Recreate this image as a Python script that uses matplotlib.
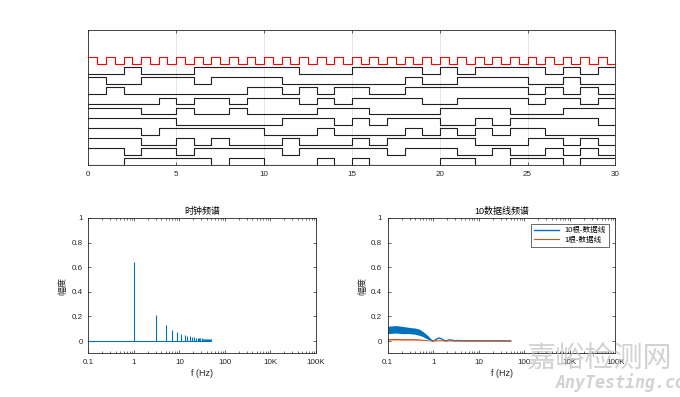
import numpy as np
import matplotlib
matplotlib.use("Agg")
import matplotlib.pyplot as plt

plt.rcParams['font.family'] = ['Liberation Sans', 'Noto Sans CJK SC', 'DejaVu Sans']
plt.rcParams['axes.unicode_minus'] = False

# ---- dados: sinal de clock e 10 linhas de dados (bits por segundo) ----
clock_bits = [1, 0, 1, 0, 1, 0, 1, 0, 1, 0, 1, 0, 1, 0, 1, 0, 1, 0, 1, 0,
              1, 0, 1, 0, 1, 0, 1, 0, 1, 0, 1, 0, 1, 0, 1, 0, 1, 0, 1, 0,
              1, 0, 1, 0, 1, 0, 1, 0, 1, 0, 1, 0, 1, 0, 1, 0, 1, 0, 1, 0]

bits_1 = [0, 0, 1, 0, 0, 0, 1, 1, 1, 1, 1, 1, 0, 0, 0, 1, 1, 1, 1, 0, 1, 0, 1, 1, 1, 1, 0, 1, 0, 1]
bits_2 = [1, 0, 0, 1, 1, 1, 0, 1, 1, 1, 1, 0, 0, 0, 0, 0, 0, 0, 1, 0, 0, 1, 1, 1, 1, 0, 0, 1, 0, 0]
bits_3 = [0, 1, 0, 0, 0, 0, 0, 0, 0, 1, 1, 0, 1, 0, 1, 1, 0, 0, 1, 1, 1, 1, 1, 1, 1, 0, 1, 0, 1, 0]
bits_4 = [0, 0, 0, 0, 1, 0, 1, 1, 0, 1, 1, 1, 0, 1, 0, 1, 1, 1, 1, 0, 0, 1, 1, 1, 1, 0, 1, 1, 0, 1]
bits_5 = [1, 1, 1, 0, 0, 1, 0, 0, 1, 0, 0, 0, 0, 1, 1, 1, 0, 0, 0, 0, 1, 1, 1, 1, 0, 0, 0, 1, 1, 1]
bits_6 = [1, 1, 1, 1, 1, 0, 0, 0, 0, 0, 0, 1, 1, 1, 0, 1, 0, 1, 1, 1, 0, 0, 1, 0, 1, 1, 1, 1, 1, 0]
bits_7 = [1, 1, 1, 0, 1, 1, 1, 1, 1, 1, 0, 0, 0, 1, 0, 0, 0, 0, 1, 0, 1, 0, 1, 0, 1, 1, 0, 0, 0, 0]
bits_8 = [1, 1, 1, 0, 0, 1, 0, 1, 0, 0, 0, 1, 0, 0, 0, 1, 0, 1, 1, 1, 1, 1, 0, 0, 0, 1, 1, 0, 1, 0]
bits_9 = [1, 1, 0, 1, 1, 0, 1, 1, 1, 1, 1, 0, 1, 1, 1, 1, 1, 0, 1, 1, 1, 0, 0, 1, 0, 0, 1, 0, 1, 0]
bits_10 = [0, 0, 1, 1, 1, 1, 1, 0, 1, 1, 0, 0, 0, 1, 0, 1, 0, 0, 0, 0, 1, 1, 0, 0, 1, 1, 1, 0, 1, 1]
data_lines = [bits_1, bits_2, bits_3, bits_4, bits_5, bits_6, bits_7, bits_8, bits_9, bits_10]

# espectro do clock (harmônicos ímpares)
harm_f = [1, 3, 5, 7, 9, 11, 13, 15, 17, 19, 21, 23, 25, 27, 29, 31, 33, 35, 37, 39, 41, 43, 45, 47, 49]
harm_a = [0.64, 0.21, 0.13, 0.09, 0.07, 0.058, 0.049, 0.042, 0.037, 0.034, 0.030, 0.028, 0.026,
          0.024, 0.022, 0.021, 0.019, 0.018, 0.017, 0.016, 0.016, 0.015, 0.014, 0.014, 0.013]

# espectro das linhas de dados (envoltória da faixa ruidosa)
band_f = [0.1, 0.15, 0.2, 0.3, 0.4, 0.5, 0.6, 0.7, 0.8, 0.9, 1.0]
band10_hi = [0.12, 0.125, 0.12, 0.11, 0.105, 0.095, 0.075, 0.055, 0.035, 0.015, 0.003]
band10_lo = [0.06, 0.065, 0.06, 0.06, 0.055, 0.045, 0.035, 0.02, 0.01, 0.003, 0.0]
band1_hi = [0.02, 0.021, 0.02, 0.02, 0.019, 0.017, 0.014, 0.011, 0.008, 0.004, 0.001]
band1_lo = [0.008, 0.009, 0.008, 0.008, 0.007, 0.006, 0.005, 0.003, 0.002, 0.0, 0.0]
tail_f = [0.95, 1.0, 1.1, 1.2, 1.35, 1.5, 1.7, 1.9, 2.1, 2.3, 2.6, 3.0, 3.5, 4.0, 5.0, 7.0, 10, 20, 50]
tail10 = [0.004, 0.0, 0.008, 0.018, 0.024, 0.018, 0.006, 0.001, 0.006, 0.01, 0.006, 0.002,
          0.004, 0.003, 0.001, 0.002, 0.001, 0.001, 0.0]
tail1 = [0.001, 0.0, 0.001, 0.002, 0.002, 0.002, 0.001, 0.0, 0.001, 0.001, 0.001, 0.0,
         0.001, 0.0, 0.0, 0.0, 0.0, 0.0, 0.0]

freq_ticks = [0.1, 1, 10, 100, 1000, 10000]
freq_labels = ['0.1', '1', '10', '100', '10K', '100K']

AZUL = '#0072BD'
LARANJA = '#D95319'
EIXO = '#262626'

fig = plt.figure(figsize=(6.8, 3.97), dpi=100)


def estilo_eixo(ax):
    for s in ax.spines.values():
        s.set_linewidth(0.6)
        s.set_color(EIXO)
    ax.tick_params(direction='in', length=2.5, width=0.5, labelsize=5.8, colors=EIXO,
                   top=True, right=True, pad=4)
    ax.tick_params(which='minor', direction='in', length=1.3, width=0.4, top=True, right=True)


# ---- gráfico superior: formas de onda ----
ax1 = fig.add_axes([0.13, 0.5838, 0.775, 0.3412])
t_half = np.arange(len(clock_bits) + 1) * 0.5
ax1.step(t_half, np.array(clock_bits + [clock_bits[-1]]) + 15, where='post', color='r', lw=0.8)
t_bit = np.arange(31)
for i, bits in enumerate(data_lines):
    offset = 1.5 * (len(data_lines) - 1 - i)
    ax1.step(t_bit, np.array(bits + [bits[-1]]) + offset, where='post', color='#202020', lw=0.8)
ax1.set_xlim(0, 30)
ax1.set_ylim(0, 20)
ax1.set_xticks([0, 5, 10, 15, 20, 25, 30])
ax1.set_yticks([])
ax1.grid(axis='x', color='#dcdcdc', lw=0.5)
ax1.set_axisbelow(True)
estilo_eixo(ax1)

# ---- espectro do clock ----
ax2 = fig.add_axes([0.13, 0.11, 0.3347, 0.3412])
ax2.hlines(0, 0.1, 50, color=AZUL, lw=0.8)
ax2.vlines(harm_f, 0, harm_a, color=AZUL, lw=0.8)
ax2.set_title('时钟频谱', fontsize=6.5, pad=3)

# ---- espectro das 10 linhas ----
ax3 = fig.add_axes([0.5703, 0.11, 0.3347, 0.3412])
ax3.fill_between(band_f, band10_lo, band10_hi, color=AZUL, lw=0)
ax3.plot(tail_f, tail10, color=AZUL, lw=1.0, label='10根-数据线')
ax3.fill_between(band_f, band1_lo, band1_hi, color=LARANJA, lw=0)
ax3.plot(tail_f, tail1, color=LARANJA, lw=0.8, label='1根-数据线')
ax3.set_title('10数据线频谱', fontsize=6.5, pad=3)
leg = ax3.legend(loc='upper right', fontsize=5.5, frameon=True, fancybox=False,
                 handlelength=3.2, borderaxespad=0.8, borderpad=0.4, labelspacing=0.3)
leg.get_frame().set_edgecolor(EIXO)
leg.get_frame().set_linewidth(0.6)

for ax in (ax2, ax3):
    ax.set_xscale('log')
    ax.set_xlim(0.1, 10000)
    ax.set_ylim(-0.1, 1)
    ax.set_xticks(freq_ticks)
    ax.set_xticklabels(freq_labels)
    ax.set_yticks([0, 0.2, 0.4, 0.6, 0.8, 1])
    ax.set_yticklabels(['0', '0.2', '0.4', '0.6', '0.8', '1'])
    ax.set_xlabel('f (Hz)', fontsize=6.5, color=EIXO, labelpad=2)
    ax.set_ylabel('幅度', fontsize=6.5, color=EIXO, labelpad=3)
    estilo_eixo(ax)

# marca d'água
fig.text(0.775, 0.055, '嘉峪检测网', fontsize=21, color='#bfbfbf', alpha=0.7,
         ha='left', va='bottom', fontfamily='Noto Sans CJK SC', zorder=10)
fig.text(0.818, 0.012, 'AnyTesting.com', fontsize=12, color='#bfbfbf', alpha=0.7,
         style='italic', fontweight='bold', fontfamily='DejaVu Sans Mono',
         ha='left', va='bottom', zorder=10)

fig.savefig('out.png', dpi=100)
